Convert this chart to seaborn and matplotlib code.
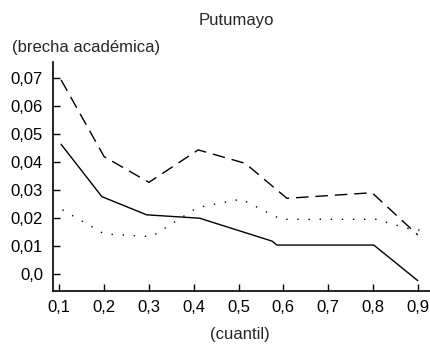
import matplotlib
matplotlib.use("Agg")
import matplotlib.pyplot as plt
import seaborn as sns
import pandas as pd
from matplotlib import font_manager

# Data
solid_x = [0.104, 0.195, 0.295, 0.413, 0.575, 0.586, 0.802, 0.900]
solid_y = [0.0463, 0.0276, 0.0211, 0.0199, 0.0117, 0.0103, 0.0103, -0.0024]

dashed_x = [0.104, 0.200, 0.300, 0.410, 0.515, 0.608, 0.798, 0.900]
dashed_y = [0.0693, 0.0419, 0.0327, 0.0443, 0.0395, 0.0270, 0.0290, 0.0139]

dotted_x = [0.107, 0.200, 0.306, 0.408, 0.506, 0.595, 0.807, 0.890, 0.925]
dotted_y = [0.0229, 0.0143, 0.0133, 0.0237, 0.0267, 0.0195, 0.0195, 0.0157, 0.0157]

x_ticks = [0.1, 0.2, 0.3, 0.4, 0.5, 0.6, 0.7, 0.8, 0.9]
x_labels = ["0,1", "0,2", "0,3", "0,4", "0,5", "0,6", "0,7", "0,8", "0,9"]
y_ticks = [0.0, 0.01, 0.02, 0.03, 0.04, 0.05, 0.06, 0.07]
y_labels = ["0,0", "0,01", "0,02", "0,03", "0,04", "0,05", "0,06", "0,07"]

title = "Putumayo"
y_title = "(brecha académica)"
x_title = "(cuantil)"

df = pd.concat([
    pd.DataFrame({"q": solid_x, "v": solid_y, "serie": "A"}),
    pd.DataFrame({"q": dashed_x, "v": dashed_y, "serie": "B"}),
    pd.DataFrame({"q": dotted_x, "v": dotted_y, "serie": "C"}),
], ignore_index=True)

sns.set_style("ticks")
names = {f.name for f in font_manager.fontManager.ttflist}
fam = "Liberation Sans Narrow" if "Liberation Sans Narrow" in names else "Liberation Sans"
plt.rcParams["font.family"] = [fam, "DejaVu Sans"]

fig = plt.figure(figsize=(4.31, 3.45), dpi=100)
ax = fig.add_axes([0.1223, 0.1574, 0.875, 0.6629])

sns.lineplot(data=df, x="q", y="v", style="serie", color="black",
             dashes={"A": "", "B": (9, 5), "C": (1, 7)},
             estimator=None, sort=False, legend=False, linewidth=1.0, ax=ax)

ax.set_xlim(0.0853, 0.927)
ax.set_ylim(-0.006, 0.0757)
ax.set_xticks(x_ticks)
ax.set_xticklabels(x_labels)
ax.set_yticks(y_ticks)
ax.set_yticklabels(y_labels)
ax.tick_params(direction="in", length=5, width=1.0, labelsize=12, colors="black", pad=7)
ax.set_xlabel("")
ax.set_ylabel("")
for s in ["top", "right"]:
    ax.spines[s].set_visible(False)
for s in ["left", "bottom"]:
    ax.spines[s].set_linewidth(1.2)
    ax.spines[s].set_color("black")

fig.text(0.548, 0.942, title, ha="center", va="center", fontsize=12)
fig.text(0.028, 0.862, y_title, ha="left", va="center", fontsize=12)
fig.text(0.557, 0.030, x_title, ha="center", va="center", fontsize=12)

fig.savefig("out.png", dpi=100)
